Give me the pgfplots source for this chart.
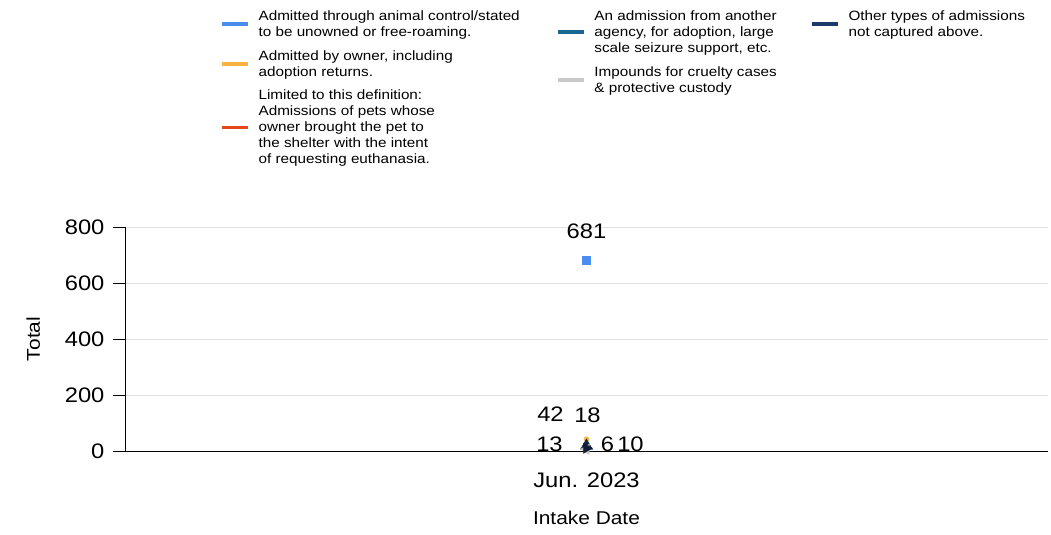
\documentclass[border=0pt]{standalone}
\usepackage{fontspec}
\setmainfont{Liberation Sans}[FakeStretch=1.13]
\usepackage{pgfplots}
\pgfplotsset{compat=1.18}
\definecolor{cblue}{HTML}{4A8CF0}
\definecolor{corange}{HTML}{FBB040}
\definecolor{cred}{HTML}{E5461C}
\definecolor{cteal}{HTML}{1A6796}
\definecolor{cgray}{HTML}{C8C8C8}
\definecolor{cnavy}{HTML}{1F3A6A}
\newcommand{\tickfont}{\fontsize{21}{24}\selectfont}
\newcommand{\labfont}{\fontsize{18.5}{21}\selectfont}
\newcommand{\legfont}{\fontsize{13.5}{16}\selectfont}
\pgfplotsset{
  leg/.style={
    legend columns=1, legend cell align=left,
    legend image code/.code={\draw[##1,line width=3.4pt,mark=none] (0pt,0pt) -- (26pt,0pt);},
    legend style={at={(rel axis cs:#1,1.985)}, anchor=north west, draw=none, fill=none,
      font=\legfont, nodes={align=left, inner sep=2pt}, row sep=8.5pt,
      /tikz/every odd column/.append style={column sep=7pt}}},
  frame/.style={scale only axis, width=923pt, height=224pt},
}
\begin{document}
\begin{tikzpicture}
\begin{axis}[
  frame,
  xmin=-1, xmax=1, ymin=0, ymax=800,
  xtick={0}, xticklabels={Jun. 2023}, major x tick style={draw=none},
  ytick={0,200,400,600,800},
  tick align=outside, major tick length=12pt,
  tick style={black, line width=0.8pt},
  axis x line*=bottom, axis y line*=left,
  axis line style={black, line width=0.9pt, -},
  ymajorgrids, grid style={black!12, line width=0.8pt},
  ticklabel style={font=\tickfont},
  yticklabel style={xshift=-5pt},
  xticklabel style={yshift=-6pt},
  /pgf/number format/assume math mode=true,
  xlabel={Intake Date}, ylabel={Total},
  xlabel style={font=\labfont, yshift=-17pt},
  ylabel style={font=\labfont, yshift=18pt},
  clip=false,
  leg=0.0997,
  nodes near coords, nodes near coords style={font=\tickfont, text=black},
]
\addplot[forget plot, only marks, mark=square*, mark size=4pt, color=cblue,
  nodes near coords style={anchor=south, yshift=18pt}]
  coordinates {(0,681)};
\addplot[forget plot, only marks, mark=*, mark size=2.5pt, color=corange,
  nodes near coords style={anchor=center, xshift=-36pt, yshift=25pt}]
  coordinates {(0,42)};
\addplot[forget plot, only marks, mark=*, mark size=2pt, color=cred,
  nodes near coords style={anchor=center, xshift=-37pt, yshift=3pt}]
  coordinates {(0,13)};
\addplot[forget plot, only marks, mark=triangle*, mark size=7pt, color=cteal!40!black,
  nodes near coords style={anchor=center, xshift=1pt, yshift=31pt}]
  coordinates {(0,18)};
\addplot[forget plot, only marks, mark=triangle*, mark size=6pt, mark options={rotate=90}, color=cgray,
  nodes near coords style={anchor=center, xshift=21pt, yshift=5pt}]
  coordinates {(0,6)};
\addplot[forget plot, only marks, mark=triangle*, mark size=6pt, mark options={rotate=-90}, color=cnavy!50!black,
  nodes near coords style={anchor=center, xshift=44pt, yshift=4pt}]
  coordinates {(0,10)};
\addlegendimage{cblue}
\addlegendentry{Admitted through animal control/stated\\to be unowned or free-roaming.}
\addlegendimage{corange}
\addlegendentry{Admitted by owner, including\\adoption returns.}
\addlegendimage{cred}
\addlegendentry{Limited to this definition:\\Admissions of pets whose\\owner brought the pet to\\the shelter with the intent\\of requesting euthanasia.}
\path (rel axis cs:-0.1354,-0.375) rectangle (rel axis cs:1.0033,2.0134);
\end{axis}
% second and third legend columns
\begin{axis}[frame, hide axis, xmin=0, xmax=1, ymin=0, ymax=1, leg=0.4636]
\addlegendimage{cteal}
\addlegendentry{An admission from another\\agency, for adoption, large\\scale seizure support, etc.}
\addlegendimage{cgray}
\addlegendentry{Impounds for cruelty cases\\\& protective custody}
\end{axis}
\begin{axis}[frame, hide axis, xmin=0, xmax=1, ymin=0, ymax=1, leg=0.7389]
\addlegendimage{cnavy}
\addlegendentry{Other types of admissions\\not captured above.}
\end{axis}
\end{tikzpicture}
\end{document}
